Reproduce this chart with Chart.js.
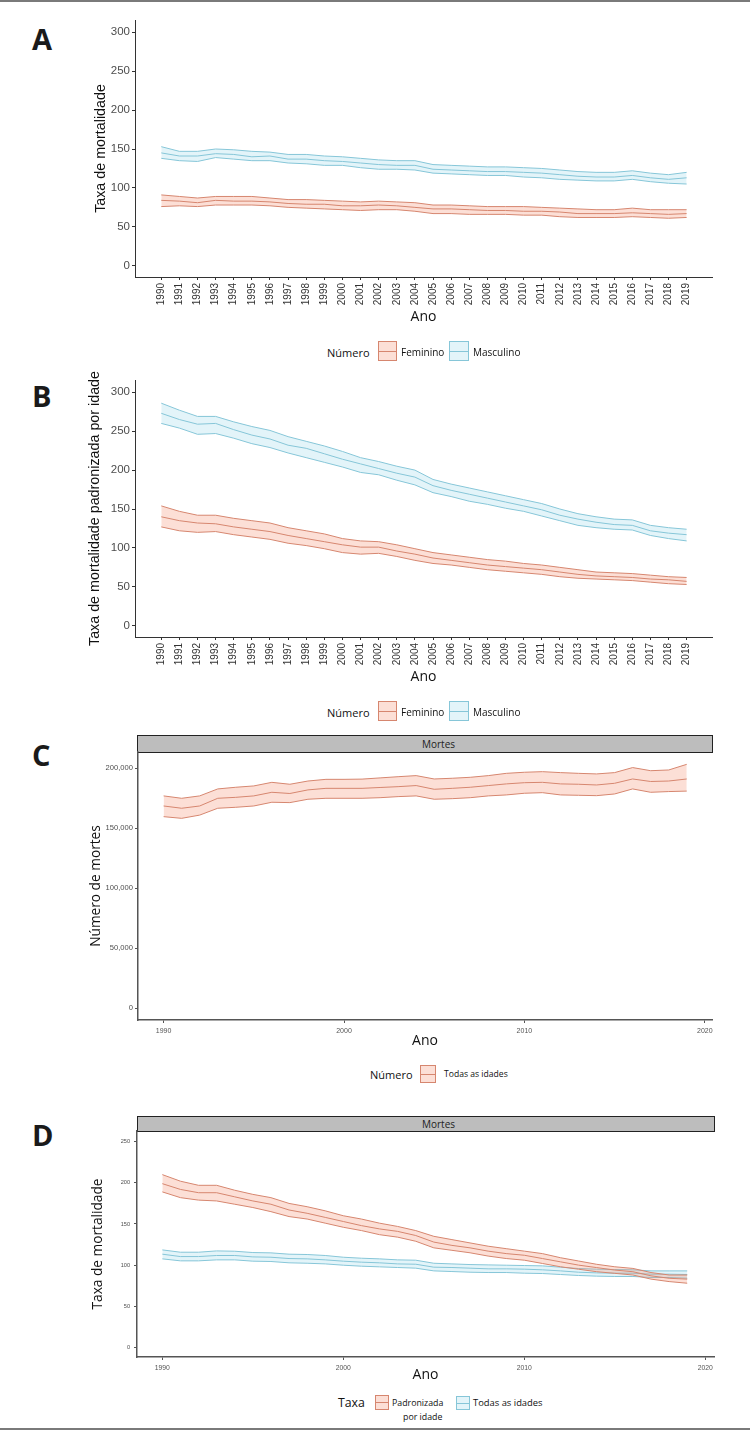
<!DOCTYPE html>
<html><head><meta charset="utf-8">
<script src="https://cdn.jsdelivr.net/npm/chart.js@4.4.1/dist/chart.umd.min.js"></script>
<style>
body{margin:0;width:750px;height:1431px;position:relative;background:#fff;overflow:hidden;font-family:'Open Sans',sans-serif;}
canvas.cv{position:absolute;left:0;}
.t{position:absolute;white-space:nowrap;color:#111;line-height:1;transform:translateY(-50%);font-family:'Open Sans',sans-serif;}
.big{font-weight:700;font-size:29px;color:#1a1a1a;}
.sw{position:absolute;box-sizing:border-box;border:1px solid;}
.sw i{position:absolute;left:0;right:0;top:50%;height:1px;margin-top:-0.5px;}
.strip{position:absolute;box-sizing:border-box;background:#bdbdbd;border:1.5px solid #222;}
.hr{position:absolute;left:0;width:750px;height:2px;background:#7a7a7a;}
</style></head>
<body>
<div class="hr" style="top:0"></div>
<div class="hr" style="top:1428px"></div>

<div class="t big" style="left:32px;top:38px">A</div>
<div class="t big" style="left:32px;top:395px">B</div>
<div class="t big" style="left:32px;top:754px">C</div>
<div class="t big" style="left:32px;top:1134px">D</div>

<canvas id="cA" class="cv" width="750" height="330" style="top:0px"></canvas>
<canvas id="cB" class="cv" width="750" height="330" style="top:360px"></canvas>
<div class="strip" style="left:137px;top:735px;width:576px;height:18px"></div>
<div class="t" style="left:422px;top:744px;font-size:10px;color:#222">Mortes</div>
<canvas id="cC" class="cv" width="750" height="340" style="top:720px"></canvas>
<div class="strip" style="left:137px;top:1116px;width:578px;height:16px"></div>
<div class="t" style="left:422px;top:1124px;font-size:10px;color:#222">Mortes</div>
<canvas id="cD" class="cv" width="750" height="290" style="top:1100px"></canvas>

<!-- legend A -->
<div class="t" style="left:327px;top:352px;font-size:11px">Número</div>
<div class="sw" id="swA1" style="left:378px;top:341px;width:19px;height:20px"><i></i></div>
<div class="t" style="left:401px;top:352px;font-size:10px">Feminino</div>
<div class="sw" id="swA2" style="left:449px;top:341px;width:20px;height:20px"><i></i></div>
<div class="t" style="left:473px;top:352px;font-size:10px">Masculino</div>
<!-- legend B -->
<div class="t" style="left:327px;top:712px;font-size:11px">Número</div>
<div class="sw" id="swB1" style="left:378px;top:701px;width:19px;height:20px"><i></i></div>
<div class="t" style="left:401px;top:712px;font-size:10px">Feminino</div>
<div class="sw" id="swB2" style="left:449px;top:701px;width:20px;height:20px"><i></i></div>
<div class="t" style="left:473px;top:712px;font-size:10px">Masculino</div>
<!-- legend C -->
<div class="t" style="left:370px;top:1074px;font-size:11px">Número</div>
<div class="sw" id="swC1" style="left:420px;top:1065px;width:16px;height:18px"><i></i></div>
<div class="t" style="left:444px;top:1074px;font-size:8.6px">Todas as idades</div>
<!-- legend D -->
<div class="t" style="left:338px;top:1403px;font-size:12.3px">Taxa</div>
<div class="sw" id="swD1" style="left:375px;top:1395px;width:14px;height:15px"><i></i></div>
<div class="t" style="left:392px;top:1403px;font-size:8.8px">Padronizada</div>
<div class="t" style="left:403px;top:1417px;font-size:8.8px">por idade</div>
<div class="sw" id="swD2" style="left:456px;top:1396px;width:14px;height:14px"><i></i></div>
<div class="t" style="left:473px;top:1403px;font-size:9.4px">Todas as idades</div>

<script>
// ---------- data ----------
const years = [1990,1991,1992,1993,1994,1995,1996,1997,1998,1999,2000,2001,2002,2003,2004,2005,2006,2007,2008,2009,2010,2011,2012,2013,2014,2015,2016,2017,2018,2019];

// Panel A: Taxa de mortalidade (by sex)
const aFemUpper  = [91,89,87,89,89,89,87,85,85,84,83,82,83,82,81,78,78,77,76,76,76,75,74,73,72,72,74,72,72,72];
const aFemMid    = [84,83,81,84,83,83,82,80,79,79,77,77,78,77,75,73,73,72,71,71,70,70,69,67,67,67,68,67,66,67];
const aFemLower  = [76,77,76,78,78,78,77,75,74,73,72,71,72,72,70,67,67,66,66,66,65,65,63,62,62,62,63,62,61,62];
const aMascUpper = [153,147,147,150,149,147,146,143,143,141,140,138,136,135,135,130,129,128,127,127,126,125,123,121,120,120,122,119,117,120];
const aMascMid   = [145,141,141,144,143,140,141,137,137,135,134,132,130,129,129,124,123,122,121,121,120,119,117,115,114,114,116,113,111,113];
const aMascLower = [138,135,134,139,137,135,135,132,131,129,129,126,124,124,123,119,118,117,116,116,114,113,111,110,109,109,111,108,106,105];

// Panel B: Taxa de mortalidade padronizada por idade (by sex)
const bFemUpper  = [154,147,142,142,138,135,132,126,122,118,112,109,108,104,99,94,91,88,85,83,80,78,75,72,69,68,67,65,63,62];
const bFemMid    = [140,135,132,131,127,124,121,116,112,108,104,101,101,96,92,87,84,81,78,76,74,72,69,66,64,63,62,60,59,57];
const bFemLower  = [127,122,120,121,117,114,111,106,103,99,94,92,93,89,84,80,78,75,72,70,68,66,63,61,60,59,58,56,54,53];
const bMascUpper = [286,277,269,269,262,256,251,243,237,231,224,216,211,205,200,188,182,177,172,167,162,157,150,144,140,137,136,129,126,124];
const bMascMid   = [273,265,259,260,252,245,240,232,228,221,214,208,202,196,191,180,174,169,164,159,154,149,142,137,133,130,129,122,119,117];
const bMascLower = [260,254,246,247,241,234,229,222,216,210,204,197,194,187,181,171,166,160,156,151,147,141,135,129,126,124,123,116,112,109];

// Panel C: Número de mortes (todas as idades)
const cUpper = [177000,175000,177000,182800,184200,185300,188300,186700,189400,190800,190800,191000,192000,193000,193900,191100,191700,192500,193900,195800,196700,197200,196400,195800,195300,196400,200600,198000,198600,203300];
const cMid   = [168600,166700,168600,175000,175800,177000,180000,179000,182000,183300,183300,183300,184000,184700,185600,182500,183300,184200,185600,187000,188000,188300,187000,186700,186100,187500,191100,189000,189400,191100];
const cLower = [159700,158300,161000,166700,167500,168600,171700,171400,174200,175000,175000,175000,175500,176400,177000,174200,174700,175500,177000,177800,179200,179700,177800,177500,177200,178600,182800,180000,180600,181000];

// Panel D: Taxa de mortalidade (padronizada por idade vs todas as idades)
const dPadUpper = [210,202,197,197,191,186,182,175,171,166,160,156,151,147,142,135,131,127,123,120,117,114,109,105,101,98,96,91,88,88];
const dPadMid   = [199,192,188,188,183,178,174,167,163,158,153,148,144,141,136,128,124,121,117,114,112,108,104,100,97,94,92,87,84,83];
const dPadLower = [189,182,179,178,174,170,165,159,156,151,146,142,137,134,129,121,118,115,111,108,106,102,98,95,92,90,88,83,80,78];
const dAllUpper = [118.5,115.7,115.7,117.3,116.9,115.3,114.9,113.3,112.9,111.7,109.6,108.4,107.6,106.4,106,102.3,101.5,100.7,100.3,99.9,99.5,99.1,97.5,95.9,95.1,94.7,94.3,93,93,93];
const dAllMid   = [113.3,110.4,110.4,111.7,111.7,110,109.6,108,107.6,106.4,104.8,103.6,102.8,101.5,101.1,97.5,97.1,96.3,95.5,95.5,95.1,94.3,93,91.4,90.6,90.2,90.2,89,89,88.6];
const dAllLower = [107.6,105.2,105.2,106.4,106.4,104.8,104.4,102.8,102.3,101.5,99.9,98.7,97.9,97.1,96.3,93,92.2,91.4,91,91,90.2,89.8,88.6,87.4,86.6,86.2,86.2,85,85,84.1];

// tick labels
const abYTicks = [0,50,100,150,200,250,300];
const cYTicks  = [0,50000,100000,150000,200000];
const dYTicks  = [0,50,100,150,200,250];
const cdXTicks = [1990,2000,2010,2020];

// ---------- styles ----------
const RED_LINE = '#d6866f', RED_FILL = 'rgba(246,140,108,0.28)';
const BLUE_LINE = '#86c6d8', BLUE_FILL = 'rgba(150,214,234,0.27)';

function sw(id, line, fill){
  const el = document.getElementById(id);
  el.style.borderColor = line; el.style.background = fill;
  el.querySelector('i').style.background = line;
}
sw('swA1',RED_LINE,RED_FILL); sw('swA2',BLUE_LINE,BLUE_FILL);
sw('swB1',RED_LINE,RED_FILL); sw('swB2',BLUE_LINE,BLUE_FILL);
sw('swC1',RED_LINE,RED_FILL);
sw('swD1',RED_LINE,RED_FILL); sw('swD2',BLUE_LINE,BLUE_FILL);

const pts = arr => arr.map((v,i)=>({x:years[i], y:v}));
function band(base, label, up, mid, lo, line, fill){
  return [
    {label: label+' sup', data: pts(up), borderColor: line, backgroundColor: fill, fill: false},
    {label: label, data: pts(mid), borderColor: line, backgroundColor: fill, fill: false},
    {label: label+' inf', data: pts(lo), borderColor: line, backgroundColor: fill, fill: base}
  ];
}

function makeChart(id, o){
  return new Chart(document.getElementById(id), {
    type: 'line',
    data: {datasets: o.datasets},
    options: {
      responsive: false, animation: false, events: [],
      layout: {padding: {left: 0, top: o.top, right: o.right, bottom: 0}},
      plugins: {legend: {display: false}, tooltip: {enabled: false}},
      elements: {point: {radius: 0}, line: {borderWidth: 1, tension: 0}},
      scales: {
        x: {
          type: 'linear', min: o.xmin, max: o.xmax,
          afterBuildTicks: s => { s.ticks = o.xticks.map(v => ({value: v})); },
          afterFit: s => { s.height = o.xh; },
          ticks: {autoSkip: false, minRotation: o.rot, maxRotation: o.rot, padding: o.xpad,
                  color: o.xtc, font: {family: 'Liberation Sans', size: o.xts},
                  callback: v => String(v)},
          grid: {drawOnChartArea: false, drawTicks: true, tickLength: 3, color: o.axc, lineWidth: 1},
          border: {display: true, color: o.axc, width: o.axw},
          title: {display: true, text: 'Ano', color: '#111',
                  font: {family: 'Open Sans', size: 14, lineHeight: 1.2},
                  padding: {top: 0, bottom: o.xtp}}
        },
        y: {
          type: 'linear', min: o.ymin, max: o.ymax,
          afterBuildTicks: s => { s.ticks = o.yticks.map(v => ({value: v})); },
          afterFit: s => { s.width = o.yw; },
          ticks: {padding: o.ypad, color: '#4d4d4d', font: {family: 'Liberation Sans', size: o.yts},
                  callback: o.yfmt},
          grid: {drawOnChartArea: false, drawTicks: true, tickLength: 3, color: o.axc, lineWidth: 1},
          border: {display: true, color: o.axc, width: o.axw},
          title: {display: true, text: o.ytitle, color: '#111',
                  font: {family: o.ytf, size: o.ytsz, lineHeight: 1.2},
                  padding: {top: o.ytp, bottom: 0}}
        }
      }
    }
  });
}

const intFmt = v => String(v);
const abCommon = {top: 20, right: 38, xh: 53, xmin: 1988.55, xmax: 2020.4, xticks: years,
  rot: 90, xpad: 3, xtc: '#333', xts: 10, axc: '#333', axw: 1, xtp: 4.6,
  ymin: -14.5, ymax: 315.8, yticks: abYTicks, yw: 135, ypad: 2, yts: 11.5, yfmt: intFmt,
  ytf: 'Liberation Sans', ytsz: 14.3};

makeChart('cA', Object.assign({}, abCommon, {
  ytitle: 'Taxa de mortalidade', ytp: 92,
  datasets: [...band(0,'Feminino',aFemUpper,aFemMid,aFemLower,RED_LINE,RED_FILL),
             ...band(3,'Masculino',aMascUpper,aMascMid,aMascLower,BLUE_LINE,BLUE_FILL)]
}));
makeChart('cB', Object.assign({}, abCommon, {
  ytitle: 'Taxa de mortalidade padronizada por idade', ytp: 86.5,
  datasets: [...band(0,'Feminino',bFemUpper,bFemMid,bFemLower,RED_LINE,RED_FILL),
             ...band(3,'Masculino',bMascUpper,bMascMid,bMascLower,BLUE_LINE,BLUE_FILL)]
}));
makeChart('cC', {
  top: 32, right: 38, xh: 40, xmin: 1988.58, xmax: 2020.4, xticks: cdXTicks,
  rot: 0, xpad: 4, xtc: '#555', xts: 7, axc: '#555', axw: 1.5, xtp: 10.6,
  ymin: -9750, ymax: 213580, yticks: cYTicks, yw: 138, ypad: 2, yts: 7.6,
  yfmt: v => Number(v).toLocaleString('en-US'),
  ytitle: 'Número de mortes', ytf: 'Open Sans', ytsz: 13.7, ytp: 87.8,
  datasets: band(0,'Todas as idades',cUpper,cMid,cLower,RED_LINE,RED_FILL)
});
makeChart('cD', {
  top: 31, right: 36, xh: 33, xmin: 1988.6, xmax: 2020.48, xticks: cdXTicks,
  rot: 0, xpad: 4, xtc: '#555', xts: 6.8, axc: '#555', axw: 1.5, xtp: 6.6,
  ymin: -11.65, ymax: 263, yticks: dYTicks, yw: 137, ypad: 4, yts: 5.6, yfmt: intFmt,
  ytitle: 'Taxa de mortalidade', ytf: 'Open Sans', ytsz: 13.7, ytp: 89.8,
  datasets: [...band(0,'Padronizada por idade',dPadUpper,dPadMid,dPadLower,RED_LINE,RED_FILL),
             ...band(3,'Todas as idades',dAllUpper,dAllMid,dAllLower,BLUE_LINE,BLUE_FILL)]
});
</script>
</body></html>
